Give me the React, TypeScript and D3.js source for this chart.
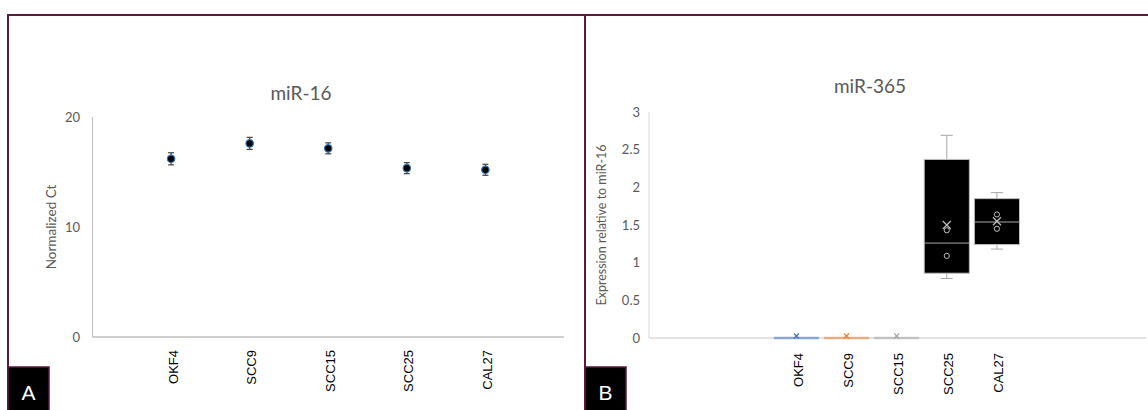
import React from "react";
import * as d3 from "d3";

// cell lines shared by both panels
const cellLines = ["OKF4", "SCC9", "SCC15", "SCC25", "CAL27"];

// panel A: miR-16 normalized Ct (mean +/- error)
const ctMeans = [16.2, 17.6, 17.15, 15.35, 15.2];
const ctErrors = [0.55, 0.55, 0.5, 0.5, 0.5];
const ctTicks = [0, 10, 20];

// panel B: miR-365 expression relative to miR-16 (box stats)
const boxMin = [0, 0, 0, 0.79, 1.18];
const boxQ1 = [0, 0, 0, 0.86, 1.24];
const boxMedian = [0, 0, 0, 1.26, 1.54];
const boxQ3 = [0, 0, 0, 2.37, 1.85];
const boxMax = [0, 0, 0, 2.69, 1.93];
const boxMean = [0, 0, 0, 1.5, 1.55];
const boxPoints = [[], [], [], [1.43, 1.09], [1.64, 1.45]];
const exprTicks = [0, 0.5, 1, 1.5, 2, 2.5, 3];
const seriesColors = ["#4472c4", "#ed7d31", "#a5a5a5", "#000000", "#000000"];

const frame = "#5b1a3c";
const textGray = "#595959";
const uiFont = "Lato, 'Open Sans', sans-serif";
const labelFont = "'Liberation Sans', Arial, sans-serif";

const PanelA = () => {
  const x = d3.scaleLinear().domain([0, 6]).range([92.5, 564]);
  const y = d3.scaleLinear().domain([0, 20]).range([337, 117]);
  return (
    <g>
      <text x={301} y={100} textAnchor="middle" fontSize={19} fill={textGray} fontFamily={uiFont}>
        miR-16
      </text>
      <line x1={x(0)} x2={x(0)} y1={y(20)} y2={y(0)} stroke="#bfbfbf" />
      <line x1={x(0)} x2={x(6)} y1={y(0)} y2={y(0)} stroke="#bfbfbf" strokeWidth={1.5} />
      {ctTicks.map(t => (
        <text key={t} x={80} y={y(t)} dy="0.35em" textAnchor="end" fontSize={13} fill={textGray} fontFamily={uiFont}>
          {t}
        </text>
      ))}
      <text
        transform={`translate(51,${(y(0) + y(20)) / 2}) rotate(-90)`}
        textAnchor="middle"
        dy="0.35em"
        fontSize={13.5}
        fill={textGray}
        fontFamily={uiFont}
      >
        Normalized Ct
      </text>
      {cellLines.map((c, i) => {
        const cx = x(i + 1);
        const top = y(ctMeans[i] + ctErrors[i]);
        const bot = y(ctMeans[i] - ctErrors[i]);
        return (
          <g key={c}>
            <line x1={cx} x2={cx} y1={top} y2={bot} stroke="#404040" strokeWidth={1.2} />
            <line x1={cx - 3} x2={cx + 3} y1={top} y2={top} stroke="#404040" strokeWidth={1.2} />
            <line x1={cx - 3} x2={cx + 3} y1={bot} y2={bot} stroke="#404040" strokeWidth={1.2} />
            <circle cx={cx} cy={y(ctMeans[i])} r={3.7} fill="#000" stroke="#2e75b6" strokeWidth={1.2} />
            <text
              transform={`translate(${cx + 2},350) rotate(-90)`}
              textAnchor="end"
              dy="0.35em"
              fontSize={13}
              fill="#000"
              fontFamily={labelFont}
            >
              {c}
            </text>
          </g>
        );
      })}
    </g>
  );
};

const xMark = (cx: number, cy: number, s: number) =>
  `M${cx - s},${cy - s}L${cx + s},${cy + s}M${cx + s},${cy - s}L${cx - s},${cy + s}`;

const PanelB = () => {
  const x = d3.scaleBand().domain(cellLines).range([771.3, 1022]).paddingInner(0.1).paddingOuter(0.05);
  const y = d3.scaleLinear().domain([0, 3]).range([338, 112]);
  const bw = x.bandwidth();
  return (
    <g>
      <text x={870} y={93} textAnchor="middle" fontSize={19} fill={textGray} fontFamily={uiFont}>
        miR-365
      </text>
      <line x1={649} x2={649} y1={y(3)} y2={y(0)} stroke="#d9d9d9" />
      <line x1={649} x2={1146} y1={y(0)} y2={y(0)} stroke="#d9d9d9" strokeWidth={1.5} />
      {exprTicks.map(t => (
        <text key={t} x={640} y={y(t)} dy="0.35em" textAnchor="end" fontSize={13} fill={textGray} fontFamily={uiFont}>
          {t}
        </text>
      ))}
      <text
        transform={`translate(602,${(y(0) + y(3)) / 2}) rotate(-90)`}
        textAnchor="middle"
        dy="0.35em"
        fontSize={12.5}
        fill={textGray}
        fontFamily={uiFont}
      >
        Expression relative to miR-16
      </text>
      {cellLines.map((c, i) => {
        const x0 = x(c) as number;
        const cx = x0 + bw / 2;
        const col = seriesColors[i];
        const flat = boxMax[i] === 0;
        return (
          <g key={c}>
            {flat ? (
              <g>
                <line x1={x0} x2={x0 + bw} y1={y(0)} y2={y(0)} stroke={col} strokeOpacity={0.55} strokeWidth={2.5} />
                <path d={xMark(cx, y(0) - 2, 2.5)} stroke={col} strokeWidth={1.2} fill="none" />
              </g>
            ) : (
              <g>
                <line x1={cx} x2={cx} y1={y(boxMax[i])} y2={y(boxQ3[i])} stroke="#a6a6a6" />
                <line x1={cx} x2={cx} y1={y(boxQ1[i])} y2={y(boxMin[i])} stroke="#a6a6a6" />
                <line x1={cx - 6} x2={cx + 6} y1={y(boxMax[i])} y2={y(boxMax[i])} stroke="#a6a6a6" />
                <line x1={cx - 6} x2={cx + 6} y1={y(boxMin[i])} y2={y(boxMin[i])} stroke="#a6a6a6" />
                <rect
                  x={x0}
                  y={y(boxQ3[i])}
                  width={bw}
                  height={y(boxQ1[i]) - y(boxQ3[i])}
                  fill={col}
                  stroke="#bfbfbf"
                  strokeWidth={1}
                />
                <line x1={x0} x2={x0 + bw} y1={y(boxMedian[i])} y2={y(boxMedian[i])} stroke="#a6a6a6" />
                <path d={xMark(cx, y(boxMean[i]), 4)} stroke="#bfbfbf" strokeWidth={1.2} fill="none" />
                {boxPoints[i].map((p, j) => (
                  <circle key={j} cx={cx} cy={y(p)} r={2.6} fill="none" stroke="#bfbfbf" strokeWidth={1} />
                ))}
              </g>
            )}
            <text
              transform={`translate(${cx + 2},353) rotate(-90)`}
              textAnchor="end"
              dy="0.35em"
              fontSize={13}
              fill="#000"
              fontFamily={labelFont}
            >
              {c}
            </text>
          </g>
        );
      })}
    </g>
  );
};

const App = () => {
  return (
    <svg
      width={1148}
      height={410}
      style={{ position: "absolute", left: 0, top: 0, background: "#fff" }}
    >
      <rect width={1148} height={410} fill="#fff" />
      <PanelA />
      <PanelB />
      {/* panel frames */}
      <line x1={7} x2={1148} y1={15} y2={15} stroke={frame} strokeWidth={2} />
      <line x1={8} x2={8} y1={15} y2={410} stroke={frame} strokeWidth={2} />
      <line x1={585} x2={585} y1={15} y2={410} stroke={frame} strokeWidth={2} />
      <rect x={8} y={367} width={41} height={44} fill="#000" stroke={frame} strokeWidth={1.5} />
      <text x={28.5} y={400} textAnchor="middle" fontSize={21} fill="#fff" fontFamily={labelFont}>
        A
      </text>
      <rect x={585} y={367} width={41} height={44} fill="#000" stroke={frame} strokeWidth={1.5} />
      <text x={605.5} y={400} textAnchor="middle" fontSize={21} fill="#fff" fontFamily={labelFont}>
        B
      </text>
    </svg>
  );
};

export default App;
